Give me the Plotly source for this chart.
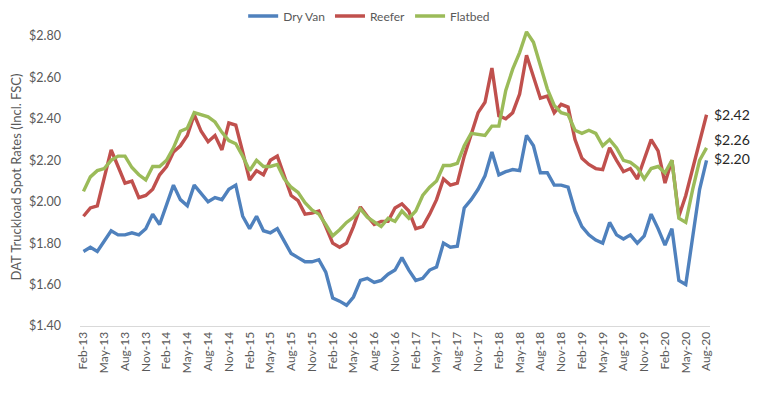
import pandas as pd
import plotly.graph_objects as go

months = pd.date_range("2013-02-01", "2020-08-01", freq="MS").strftime("%b-%y").tolist()

dry_van = [1.76, 1.78, 1.76, 1.81, 1.86, 1.84, 1.84, 1.85, 1.84, 1.87, 1.94,
           1.89, 1.98, 2.08, 2.01, 1.98, 2.08, 2.04, 2.00, 2.02, 2.01, 2.06, 2.08,
           1.93, 1.87, 1.93, 1.86, 1.85, 1.87, 1.81, 1.75, 1.73, 1.71, 1.71, 1.72,
           1.66, 1.535, 1.52, 1.50, 1.54, 1.62, 1.63, 1.61, 1.62, 1.65, 1.67, 1.73,
           1.67, 1.62, 1.63, 1.67, 1.685, 1.80, 1.78, 1.785, 1.97, 2.01, 2.06, 2.125,
           2.24, 2.13, 2.145, 2.155, 2.15, 2.32, 2.27, 2.14, 2.14, 2.08, 2.08, 2.07,
           1.955, 1.88, 1.84, 1.815, 1.80, 1.90, 1.84, 1.82, 1.84, 1.80, 1.835, 1.94,
           1.87, 1.79, 1.87, 1.62, 1.60, 1.83, 2.06, 2.20]

reefer = [1.93, 1.97, 1.98, 2.12, 2.25, 2.17, 2.09, 2.10, 2.02, 2.03, 2.06,
          2.13, 2.17, 2.24, 2.27, 2.32, 2.42, 2.34, 2.29, 2.32, 2.25, 2.38, 2.37,
          2.24, 2.105, 2.15, 2.13, 2.20, 2.22, 2.125, 2.03, 2.005, 1.94, 1.945, 1.955,
          1.88, 1.80, 1.78, 1.80, 1.88, 1.975, 1.93, 1.89, 1.905, 1.905, 1.97, 1.99,
          1.955, 1.87, 1.88, 1.94, 2.01, 2.11, 2.08, 2.09, 2.22, 2.32, 2.43, 2.48,
          2.645, 2.415, 2.40, 2.43, 2.52, 2.707, 2.60, 2.50, 2.51, 2.43, 2.47, 2.457,
          2.30, 2.21, 2.18, 2.16, 2.155, 2.26, 2.20, 2.145, 2.16, 2.11, 2.205, 2.30,
          2.245, 2.09, 2.20, 1.93, 2.03, 2.155, 2.295, 2.42]

flatbed = [2.05, 2.12, 2.15, 2.16, 2.20, 2.22, 2.22, 2.165, 2.13, 2.105, 2.17,
           2.17, 2.20, 2.26, 2.34, 2.355, 2.43, 2.42, 2.41, 2.385, 2.335, 2.295, 2.28,
           2.22, 2.15, 2.20, 2.17, 2.17, 2.18, 2.11, 2.07, 2.045, 1.995, 1.96, 1.94,
           1.89, 1.835, 1.865, 1.90, 1.925, 1.965, 1.925, 1.90, 1.88, 1.92, 1.905, 1.955,
           1.92, 1.955, 2.03, 2.07, 2.10, 2.175, 2.175, 2.185, 2.27, 2.33, 2.325, 2.32,
           2.365, 2.365, 2.537, 2.64, 2.72, 2.82, 2.77, 2.65, 2.545, 2.465, 2.43, 2.42,
           2.345, 2.33, 2.345, 2.33, 2.27, 2.30, 2.26, 2.20, 2.19, 2.165, 2.11, 2.16,
           2.17, 2.14, 2.20, 1.92, 1.90, 2.06, 2.20, 2.26]

series_names = ["Dry Van", "Reefer", "Flatbed"]
series_colors = ["#4F81BD", "#C0504D", "#9BBB59"]
end_labels = ["$2.20", "$2.42", "$2.26"]
end_label_y = [2.21, 2.42, 2.30]

y_ticks = [1.40, 1.60, 1.80, 2.00, 2.20, 2.40, 2.60, 2.80]
x_ticks = months[::3]

FONT = "Lato, 'Open Sans', sans-serif"
W, H = 756, 387          # page body has an 8px margin
T, B, L, R = 20, 69, 72, 54
plot_h = H - T - B

fig = go.Figure()
for name, vals, col in zip(series_names, [dry_van, reefer, flatbed], series_colors):
    fig.add_trace(go.Scatter(x=months, y=vals, name=name, mode="lines",
                             line=dict(color=col, width=3.4)))

for txt, yv in zip(end_labels, end_label_y):
    fig.add_annotation(x=months[-1], y=yv, text=txt, showarrow=False,
                       xanchor="left", xshift=5,
                       font=dict(size=14, color="#262626", family=FONT))

fig.update_layout(
    width=W, height=H,
    margin=dict(l=L, r=R, t=T, b=B, autoexpand=False),
    paper_bgcolor="white", plot_bgcolor="white",
    font=dict(family=FONT, color="#595959"),
    showlegend=True,
    legend=dict(orientation="h", x=0.459, xanchor="center",
                yref="container", y=1 - 8 / H, yanchor="middle",
                font=dict(size=12, color="#595959"), itemwidth=30,
                bgcolor="rgba(0,0,0,0)"),
)
fig.update_xaxes(type="category", categoryorder="array", categoryarray=months,
                 range=[-0.5, len(months) - 0.5],
                 tickmode="array", tickvals=x_ticks, ticktext=x_ticks,
                 tickangle=-90, tickfont=dict(size=12, color="#595959"),
                 showgrid=False, showline=True, linecolor="#D9D9D9", linewidth=1,
                 ticks="", zeroline=False, automargin=False)
fig.update_yaxes(range=[1.40, 1.40 + plot_h / 207.14],
                 tickmode="array", tickvals=y_ticks,
                 ticktext=["$%.2f" % v for v in y_ticks],
                 tickfont=dict(size=12.5, color="#595959"),
                 showgrid=False, showline=False, zeroline=False, ticks="",
                 ticklabelstandoff=18, automargin=False,
                 title=dict(text="DAT Truckload Spot Rates (Incl. FSC)",
                            font=dict(size=13, color="#595959"), standoff=4))

fig.write_html("out.html")
